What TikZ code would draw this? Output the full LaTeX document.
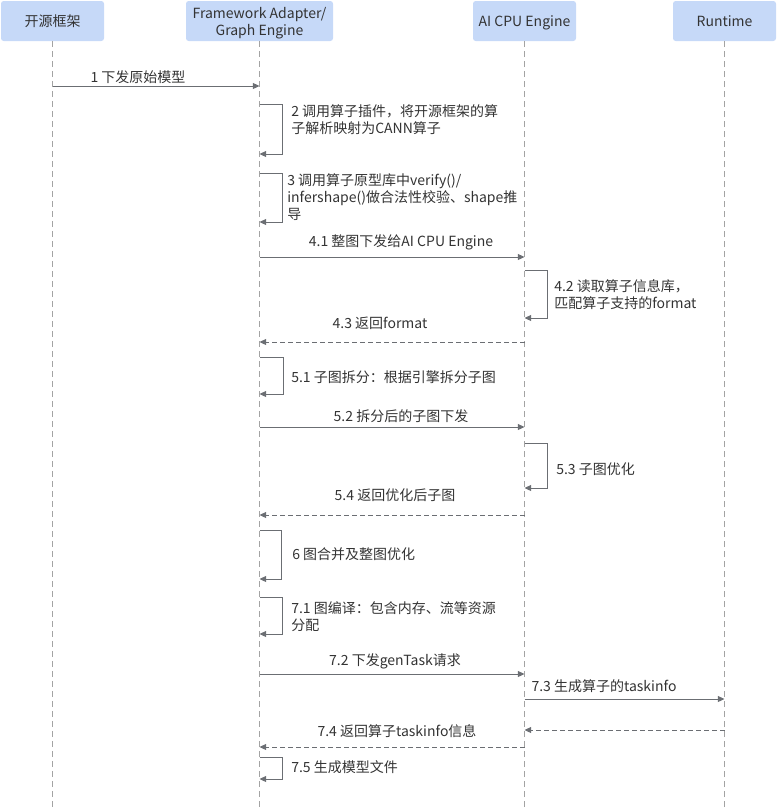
\documentclass[tikz,border=0pt]{standalone}
\usepackage{fontspec}
\setmainfont{Noto Sans CJK SC}
\usepackage{xcolor}
\usepackage{tikz}
\usetikzlibrary{arrows.meta}
\usetikzlibrary{calc}

\definecolor{headfill}{HTML}{C6D9F8}
\definecolor{linegray}{HTML}{6B6E73}
\definecolor{lifegray}{HTML}{A3A3A3}
\definecolor{txtgray}{HTML}{333333}

\tikzset{
    head/.style={fill=headfill, rounded corners=2pt, minimum height=30pt, minimum width=77.25pt, align=center, inner sep=0pt, text depth=0pt},
    life/.style={draw=lifegray, line width=0.75pt, dash pattern=on 4.5pt off 3pt},
    msg/.style={draw=linegray, line width=0.75pt, -{Triangle[length=5pt,width=4.5pt]}},
    ret/.style={msg, dash pattern=on 3.75pt off 2.25pt},
    mlabel/.style={inner sep=0pt},
    slabel/.style={anchor=west, align=left, inner sep=0pt},
}

\begin{document}
\begin{tikzpicture}[x=0.75pt, y=-0.75pt, font=\fontsize{10.5}{12.75}\selectfont, text=txtgray]
            \useasboundingbox (0,0) rectangle (777,808);
            % participants
            \node[head] (src) at (52.5,21) {开源框架};
            \node[head, minimum width=110.25pt] (fa) at (259.5,21) {Framework Adapter/\\Graph Engine};
            \node[head] (aicpu) at (524.5,21) {AI CPU Engine};
            \node[head] (rt) at (724.5,21) {Runtime};
            \foreach \p in {src,fa,aicpu,rt}
                \draw[life] (\p.south) -- (\p.south |- 0,808);
            % messages
            \draw[msg] (src |- 0,86) -- (fa |- 0,86);
            \node[mlabel] (l1) at (138,77) {1 下发原始模型};
            \draw[msg] (fa |- 0,104) -- ++(23,0) |- (fa |- 0,154);
            \node[slabel] (l2) at (291,120) {2 调用算子插件，将开源框架的算\\子解析映射为CANN算子};
            \draw[msg] (fa |- 0,173) -- ++(23,0) |- (fa |- 0,222);
            \node[slabel] (l3) at (287,197) {3 调用算子原型库中verify()/\\infershape()做合法性校验、shape推\\导};
            \draw[msg] (fa |- 0,257) -- (aicpu |- 0,257);
            \node[mlabel] (l41) at (401,242) {4.1 整图下发给AI CPU Engine};
            \draw[msg] (aicpu |- 0,270) -- ++(23,0) |- (aicpu |- 0,318);
            \node[slabel] (l42) at (554,294.5) {4.2 读取算子信息库，\\匹配算子支持的format};
            \draw[ret] (aicpu |- 0,342) -- (fa |- 0,342);
            \node[mlabel] (l43) at (380,323) {4.3 返回format};
            \draw[msg] (fa |- 0,357) -- ++(24,0) |- (fa |- 0,394);
            \node[slabel] (l51) at (291,377) {5.1 子图拆分：根据引擎拆分子图};
            \draw[msg] (fa |- 0,427) -- (aicpu |- 0,427);
            \node[mlabel] (l52) at (401,416) {5.2 拆分后的子图下发};
            \draw[msg] (aicpu |- 0,443) -- ++(23,0) |- (aicpu |- 0,488);
            \node[slabel] (l53) at (556,469) {5.3 子图优化};
            \draw[ret] (aicpu |- 0,515) -- (fa |- 0,515);
            \node[mlabel] (l54) at (395,495) {5.4 返回优化后子图};
            \draw[msg] (fa |- 0,530) -- ++(22,0) |- (fa |- 0,579);
            \node[slabel] (l6) at (292,554) {6 图合并及整图优化};
            \draw[msg] (fa |- 0,597) -- ++(23,0) |- (fa |- 0,634);
            \node[slabel] (l71) at (291,616.5) {7.1 图编译：包含内存、流等资源\\分配};
            \draw[msg] (fa |- 0,674) -- (aicpu |- 0,674);
            \node[mlabel] (l72) at (395,661) {7.2 下发genTask请求};
            \draw[msg] (aicpu |- 0,699) -- (rt |- 0,699);
            \node[mlabel] (l73) at (604,686) {7.3 生成算子的taskinfo};
            \draw[ret] (rt |- 0,730) -- (aicpu |- 0,730);
            \draw[ret] (aicpu |- 0,747) -- (fa |- 0,747);
            \node[mlabel] (l74) at (397,731) {7.4 返回算子taskinfo信息};
            \draw[msg] (fa |- 0,757) -- ++(23,0) |- (fa |- 0,779);
            \node[slabel] (l75) at (291,767) {7.5 生成模型文件};
        \end{tikzpicture}
\end{document}
